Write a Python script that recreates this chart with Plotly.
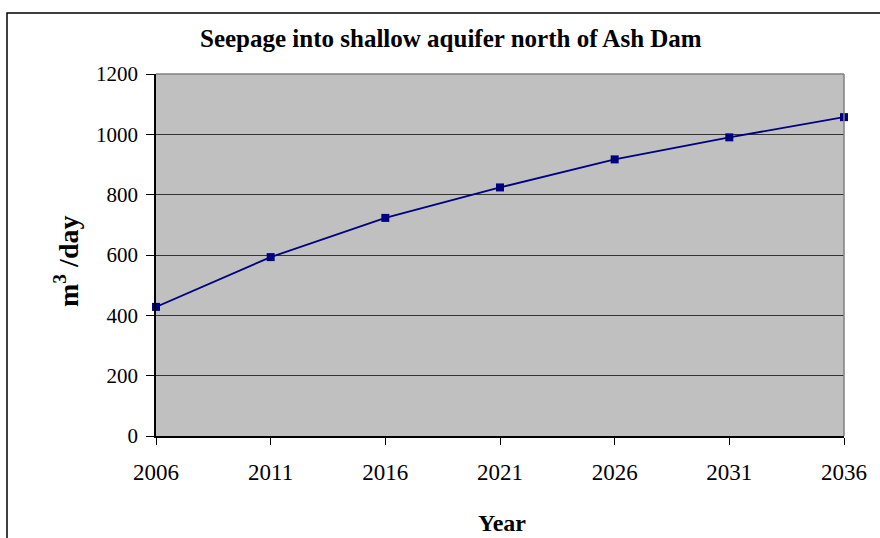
import plotly.graph_objects as go

years = [2006, 2011, 2016, 2021, 2026, 2031, 2036]
seepage = [428, 593, 723, 824, 917, 990, 1057]
y_ticks = [0, 200, 400, 600, 800, 1000, 1200]

L, R, T, B = 156, 36, 74, 102
W, H = 880, 538
pw, ph = W - L - R, H - T - B

fig = go.Figure()
fig.add_trace(go.Scatter(
    x=years, y=seepage, mode="lines+markers",
    line=dict(color="#000080", width=1.8),
    marker=dict(symbol="square", size=8, color="#000080"),
    cliponaxis=False, showlegend=False,
))

font = "Liberation Serif, Times New Roman, serif"
fig.update_layout(
    width=W, height=H,
    margin=dict(l=L, r=R, t=T, b=B),
    paper_bgcolor="white", plot_bgcolor="#C0C0C0",
    font=dict(family=font, color="black", size=20),
    xaxis=dict(range=[2006, 2036], tickvals=years, ticks="outside", ticklen=7,
               tickcolor="black", showgrid=False, zeroline=False,
               showline=True, linecolor="black", linewidth=1.5,
               ticklabelstandoff=8, tickfont=dict(size=23)),
    yaxis=dict(range=[0, 1200], tickvals=y_ticks, ticks="outside", ticklen=8,
               tickcolor="black", showgrid=True, gridcolor="#333333", gridwidth=1,
               zeroline=False, showline=True, linecolor="black", linewidth=1.5,
               ticklabelstandoff=4, tickfont=dict(size=21)),
    shapes=[
        dict(type="rect", xref="paper", yref="paper",
             x0=(7 - L) / pw, x1=2, y0=-1, y1=1 + (T - 13) / ph,
             line=dict(color="black", width=1.5), fillcolor="rgba(0,0,0,0)", layer="below"),
        dict(type="line", xref="paper", yref="paper", x0=0, x1=1, y0=1, y1=1,
             line=dict(color="#808080", width=1.5)),
        dict(type="line", xref="paper", yref="paper", x0=1, x1=1, y0=0, y1=1,
             line=dict(color="#808080", width=1.5)),
    ],
    annotations=[
        dict(text="<b>Seepage into shallow aquifer north of Ash Dam</b>",
             xref="paper", yref="paper", x=(451 - L) / pw, y=1 + (T - 39) / ph,
             showarrow=False, font=dict(size=25, family=font), xanchor="center", yanchor="middle"),
        dict(text="<b>Year</b>", xref="paper", yref="paper",
             x=(502 - L) / pw, y=-(523 - (H - B)) / ph,
             showarrow=False, font=dict(size=24, family=font), xanchor="center", yanchor="middle"),
        dict(text="<b>m<sup>3</sup> /day</b>", xref="paper", yref="paper",
             x=(66 - L) / pw, y=(H - B - 262) / ph, textangle=-90,
             showarrow=False, font=dict(size=28, family=font), xanchor="center", yanchor="middle"),
    ],
)

fig.write_html("out.html", config={"displayModeBar": False},
               post_script="document.body.style.margin='0';document.documentElement.style.overflow='hidden';")
